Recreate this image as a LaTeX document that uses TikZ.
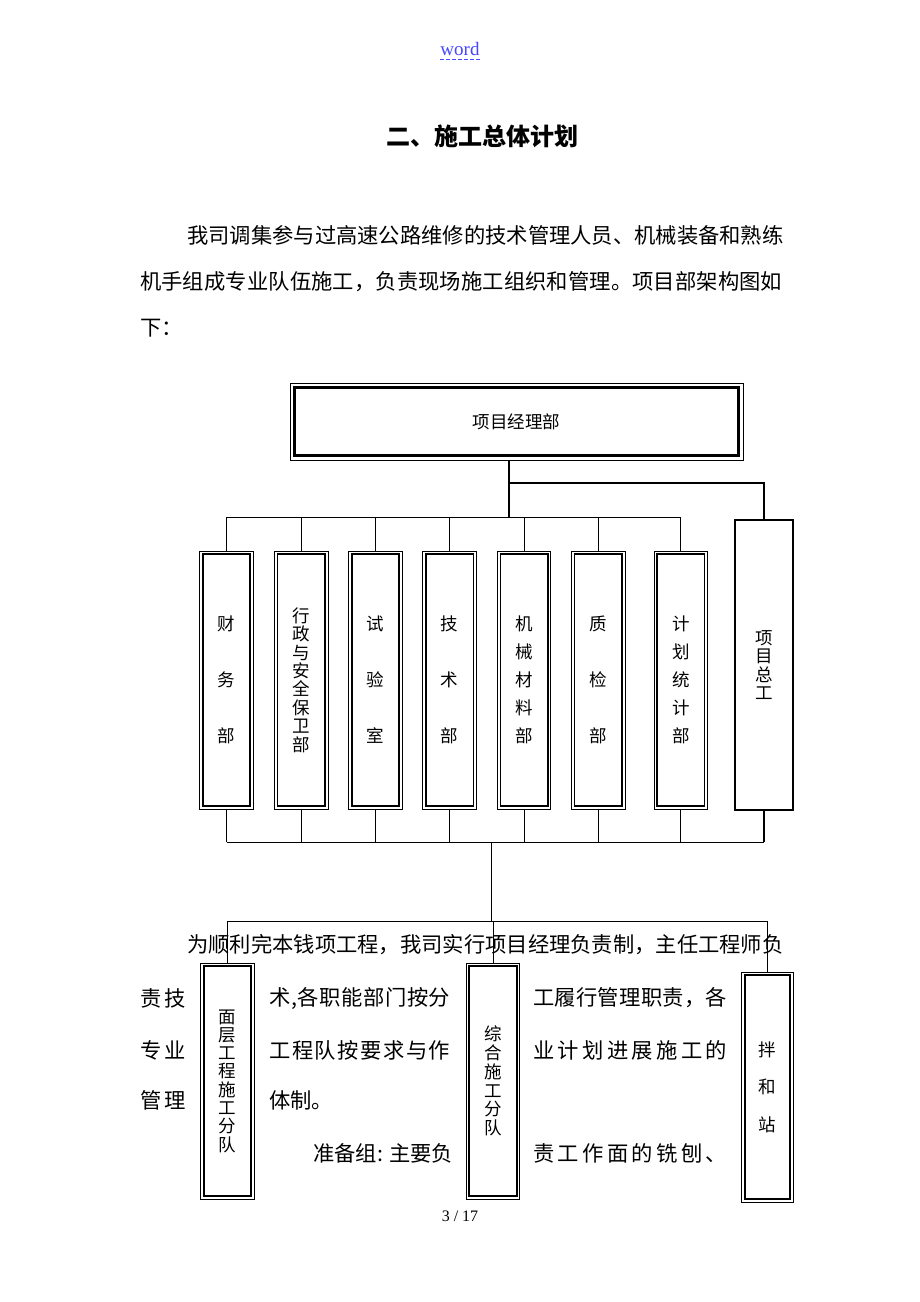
\documentclass[tikz,border=0pt]{standalone}
\usepackage{fontspec}
\setmainfont{Liberation Serif}
\newfontfamily\cjk{Noto Sans CJK SC}
% spread the characters of one line over a given width
\newcommand\spreadline[2]{\makebox[#1][s]{\spreadloop#2\relax\unskip}}
\def\spreadloop#1{\ifx#1\relax\else#1\hfil\expandafter\spreadloop\fi}
\definecolor{linkblue}{RGB}{70,70,255}
\tikzset{
	body/.style = {anchor = west, inner sep = 0pt,
				   font = \cjk\fontsize{21.3}{21.3}\selectfont},
	dept/.style = {draw = black, line width = 1pt, inner sep = 0pt,
				   align = center, minimum width = 53.5pt},
	linegap/.style = {font = \cjk\fontsize{17.5}{#1}\selectfont},
	link/.style = {line width = 1pt},
	mainlink/.style = {line width = 1.8pt}
}
\begin{document}
\begin{tikzpicture}[x = 1pt, y = -1pt]
	\useasboundingbox[fill = white] (0, 0) rectangle (920, 1302);

	% page head and text
	\draw (460, 55.7) node[anchor = base, text = linkblue, inner sep = 0pt,
					 font = \fontsize{19}{19}\selectfont
			   ](wd){word};
	\draw[linkblue, dash pattern = on 4pt off 2pt, line width = 1pt]
		([shift = {(0, 3.6)}]wd.base west) -- ([shift = {(0, 3.6)}]wd.base east);
	\draw (482, 136) node[font = \cjk\bfseries\fontsize{24}{24}\selectfont
			   ](title){二、施工总体计划};
	\draw (187, 235) node[body](p1){\spreadline{595pt}{我司调集参与过高速公路维修的技术管理人员、机械装备和熟练}};
	\draw (140, 282) node[body](p2){\spreadline{642pt}{机手组成专业队伍施工，负责现场施工组织和管理。项目部架构图如}};
	\draw (140, 328) node[body](p3){下：};

	% project manager office
	\draw (516.5, 421.5) node[draw = black, line width = 1pt,
					  minimum width = 453pt, minimum height = 77pt,
					  font = \cjk\fontsize{17.5}{17.5}\selectfont
			   ](xmb){项目经理部};
	\draw[line width = 3pt] ([shift = {(5, 5)}]xmb.north west) rectangle ([shift = {(-5, -5)}]xmb.south east);

	% departments
	\draw (226.5, 680) node[dept, minimum height = 258pt, linegap = 56](cw){财\\务\\部};
	\draw (301.3, 680) node[dept, minimum height = 258pt, linegap = 18.4](xz){行\\政\\与\\安\\全\\保\\卫\\部};
	\draw (375.5, 680) node[dept, minimum height = 258pt, linegap = 56](sy){试\\验\\室};
	\draw (449.7, 680) node[dept, minimum height = 258pt, linegap = 56](js){技\\术\\部};
	\draw (524.2, 680) node[dept, minimum height = 258pt, linegap = 28](jx){机\\械\\材\\料\\部};
	\draw (598.3, 680) node[dept, minimum height = 258pt, linegap = 56](zj){质\\检\\部};
	\draw (680.8, 680) node[dept, minimum height = 258pt, linegap = 28](jh){计\\划\\统\\计\\部};
	\draw (764, 665) node[draw = black, line width = 2pt, inner sep = 0pt, align = center,
					  minimum width = 58pt, minimum height = 290pt, linegap = 18.5
			   ](zg){项\\目\\总\\工};

	% teams
	\draw (227.5, 1081) node[dept, minimum height = 236pt, linegap = 18.3](mc){面\\层\\工\\程\\施\\工\\分\\队};
	\draw (493, 1081) node[dept, minimum height = 236pt, linegap = 18.8](zh){综\\合\\施\\工\\分\\队};
	\draw (767.5, 1087) node[dept, minimum width = 51.6pt, minimum height = 230pt, linegap = 37.5](bh){拌\\和\\站};

	\foreach \n in {cw, xz, sy, js, jx, zj, jh, mc, zh, bh}
		\draw[line width = 1.8pt] ([shift = {(3.5, 3.5)}]\n.north west) rectangle ([shift = {(-3.5, -3.5)}]\n.south east);

	% connectors
	\coordinate (fork) at (509, 483);
	\coordinate (upbus) at (509, 517);
	\coordinate (midbus) at (491, 842);
	\coordinate (lowbus) at (491, 921);

	\draw[mainlink] (xmb.south -| upbus) -- (upbus);
	\draw[mainlink] (fork) -| (zg.north);
	\draw[link] (cw.north |- upbus) -- (jh.north |- upbus);
	\foreach \n in {cw, xz, sy, js, jx, zj, jh}
		\draw[link] (\n.north) -- (\n.north |- upbus);

	\foreach \n in {cw, xz, sy, js, jx, zj, jh}
		\draw[link] (\n.south) -- (\n.south |- midbus);
	\draw[mainlink] (zg.south) -- (zg.south |- midbus);
	\draw[link] (cw.south |- midbus) -- (zg.south |- midbus);
	\draw[link] (midbus) -- (lowbus);
	\draw[link] (mc.north |- lowbus) -- (bh.north |- lowbus);
	\foreach \n in {mc, zh, bh}
		\draw[link] (\n.north |- lowbus) -- (\n.north);

	% text running over the chart
	\draw (187, 945) node[body](q1){\spreadline{595pt}{为顺利完本钱项工程，我司实行项目经理负责制，主任工程师负}};
	\draw (140, 998) node[body](q2){\spreadline{46pt}{责技}};
	\draw (269, 998) node[body](q3){\spreadline{181pt}{术,各职能部门按分}};
	\draw (533, 998) node[body](q4){\spreadline{194pt}{工履行管理职责，各}};
	\draw (140, 1050) node[body](q5){\spreadline{46pt}{专业}};
	\draw (269, 1050) node[body](q6){\spreadline{181pt}{工程队按要求与作}};
	\draw (533, 1050) node[body](q7){\spreadline{194pt}{业计划进展施工的}};
	\draw (140, 1100) node[body](q8){\spreadline{46pt}{管理}};
	\draw (269, 1100) node[body](q9){体制。};
	\draw (313, 1153) node[body](q10){准备组: 主要负};
	\draw (533, 1153) node[body](q11){\spreadline{194pt}{责工作面的铣刨、}};

	% page number
	\draw (460, 1216) node[font = \fontsize{16}{16}\selectfont](pg){3 / 17};
\end{tikzpicture}
\end{document}
